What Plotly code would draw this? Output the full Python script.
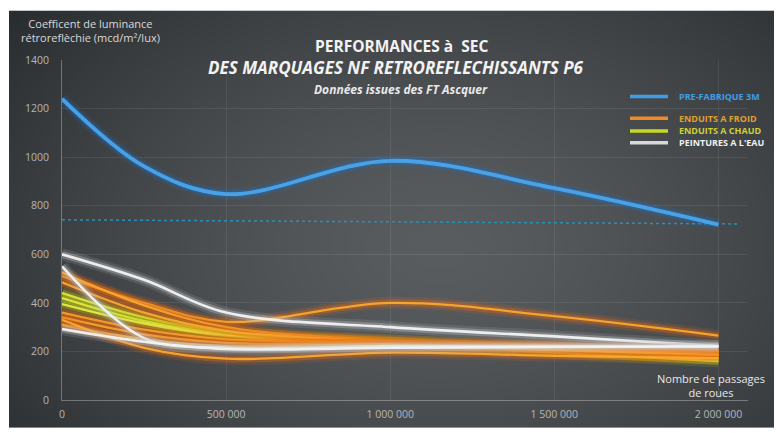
import base64, struct, zlib
import numpy as np
import plotly.graph_objects as go

# ---------------- data ----------------
x_pts = [0, 250000, 500000, 1000000, 1500000, 2000000]

prefab_3m = [1240, 962, 848, 985, 872, 722]
seuil_x = [0, 2060000]
seuil_y = [742, 725]

enduits_froid = [
    [510, 400, 322, 400, 345, 265],
    [525, 390, 300, 245, 225, 205],
    [485, 360, 285, 240, 222, 200],
    [360, 290, 250, 235, 215, 195],
    [340, 270, 235, 230, 210, 190],
    [310, 250, 222, 228, 205, 185],
    [330, 215, 170, 195, 182, 172],
]
enduits_chaud = [
    [440, 340, 280, 245, 215, 185],
    [420, 325, 272, 238, 205, 170],
    [395, 315, 265, 232, 195, 160],
]
peintures_eau = [
    [600, 495, 360, 300, 262, 222],
    [550, 255, 215, 222, 222, 222],
    [292, 240, 210, 215, 218, 220],
]

x_tickvals = [0, 500000, 1000000, 1500000, 2000000]
x_ticktext = ["0", "500 000", "1 000 000", "1 500 000", "2 000 000"]
y_tickvals = [0, 200, 400, 600, 800, 1000, 1200, 1400]

legend_labels = ["PRE-FABRIQUE 3M", "ENDUITS A FROID", "ENDUITS A CHAUD", "PEINTURES A L'EAU"]

# ---------------- geometry helpers ----------------
OFF = 8                      # page body margin
W, H = 782, 433              # reference picture size
FW, FH = W - OFF, H - OFF    # figure size
L, R, T, B = 62, 748, 60, 405  # plot area in reference pixels
PW, PH = R - L, B - T


def px(x):
    return (x - L) / PW


def py(y):
    return (B - y) / PH


# ---------------- background gradient (PNG) ----------------
gw, gh = 196, 108
jj, ii = np.mgrid[0:gh, 0:gw]
X = ii / (gw - 1) * (W - 9) + 9
Y = jj / (gh - 1) * (H - 10) + 10
d = np.sqrt(((X - 440) / 470.0) ** 2 + ((Y - 250) / 330.0) ** 2)
d = np.clip(d, 0, 1.25) / 1.25
t = d ** 1.4
light = np.array([0x5a, 0x5d, 0x60], float)
dark = np.array([0x26, 0x29, 0x2c], float)
img = (light[None, None, :] * (1 - t[..., None]) + dark[None, None, :] * t[..., None]).astype(np.uint8)
raw = b"".join(b"\x00" + img[r].tobytes() for r in range(gh))


def chunk(tag, data):
    return struct.pack(">I", len(data)) + tag + data + struct.pack(">I", zlib.crc32(tag + data) & 0xFFFFFFFF)


png = (b"\x89PNG\r\n\x1a\n" + chunk(b"IHDR", struct.pack(">IIBBBBB", gw, gh, 8, 2, 0, 0, 0))
       + chunk(b"IDAT", zlib.compress(raw, 9)) + chunk(b"IEND", b""))
bg_uri = "data:image/png;base64," + base64.b64encode(png).decode()

# ---------------- figure ----------------
fig = go.Figure()


def glow_line(xs, ys, core, glow, wcore=2.3):
    for w, op in [(12, 0.14), (7, 0.35)]:
        fig.add_trace(go.Scatter(x=xs, y=ys, mode="lines", line=dict(color=glow, width=w, shape="spline", smoothing=1.0),
                                 opacity=op, showlegend=False, hoverinfo="skip"))
    fig.add_trace(go.Scatter(x=xs, y=ys, mode="lines", line=dict(color=core, width=wcore, shape="spline", smoothing=1.0),
                             opacity=0.95, showlegend=False, hoverinfo="skip"))


# threshold dotted line
fig.add_trace(go.Scatter(x=seuil_x, y=seuil_y, mode="lines", line=dict(color="#2a8fb8", width=1.5, dash="dot"),
                         showlegend=False, hoverinfo="skip"))

for ys in enduits_chaud:
    glow_line(x_pts, ys, "#eee84a", "#b8d010")
for ys in enduits_froid:
    glow_line(x_pts, ys, "#f8a832", "#e86a10")
for ys in peintures_eau:
    glow_line(x_pts, ys, "#f4f4f4", "#c4c7ca", 2.6)

# blue
glow_line(x_pts, prefab_3m, "#4aa6ec", "#1d72c8", 3.8)

fig.add_layout_image(dict(source=bg_uri, xref="paper", yref="paper", x=px(9), y=py(10),
                          sizex=(W - 9) / PW, sizey=(H - 10) / PH, sizing="stretch", layer="below",
                          xanchor="left", yanchor="top"))

font = "Open Sans, DejaVu Sans, sans-serif"

fig.update_layout(
    width=FW, height=FH,
    margin=dict(l=L - OFF, r=FW - (R - OFF), t=T - OFF, b=FH - (B - OFF), pad=0),
    paper_bgcolor="white",
    plot_bgcolor="rgba(0,0,0,0)",
    showlegend=False,
    xaxis=dict(range=[0, 2090000], tickvals=x_tickvals, ticktext=x_ticktext, showgrid=True,
               gridcolor="rgba(255,255,255,0.08)", gridwidth=1, zeroline=False,
               showline=True, linecolor="rgba(255,255,255,0.30)", linewidth=1,
               tickfont=dict(family=font, size=10.5, color="#b4b6b8"), ticks="", ticklabelstandoff=4),
    yaxis=dict(range=[0, 1400], tickvals=y_tickvals, showgrid=True,
               gridcolor="rgba(255,255,255,0.08)", gridwidth=1, zeroline=False,
               showline=True, linecolor="rgba(255,255,255,0.30)", linewidth=1,
               tickfont=dict(family=font, size=10.5, color="#b4b6b8"), ticks="", ticklabelstandoff=10),
)

ann = []


def text(x, y, s, size, color, bold=False, italic=False, xanchor="center", align="center"):
    if bold:
        s = "<b>" + s + "</b>"
    if italic:
        s = "<i>" + s + "</i>"
    ann.append(dict(x=px(x), y=py(y), xref="paper", yref="paper", text=s, showarrow=False,
                    xanchor=xanchor, yanchor="middle", align=align, borderpad=0,
                    font=dict(family=font, size=size, color=color)))


text(401, 45.5, "PERFORMANCES à  SEC", 15.5, "#f2f2f2", bold=True)
text(396, 68, "DES MARQUAGES NF RETROREFLECHISSANTS P6", 17, "#f2f2f2", bold=True, italic=True)
text(401, 89.5, "Données issues des FT Ascquer", 12, "#e8e8e8", bold=True, italic=True)
text(90, 30, "Coefficent de luminance<br>rétroreflèchie (mcd/m²/lux)", 11, "#d8d8d8")
text(711, 390, "Nombre de passages<br>de roues", 11, "#e8e8e8")

# legend (manual)
leg_rows = [(97, "#3d9ee6", "#3d9ee6"), (119, "#f08a28", "#e0a030"), (132, "#c8d820", "#d0d030"), (144, "#d8d8d8", "#f0f0f0")]
shapes = []
for (yy, lc, tc), lab in zip(leg_rows, legend_labels):
    shapes.append(dict(type="line", xref="paper", yref="paper", x0=px(630), x1=px(668), y0=py(yy), y1=py(yy),
                       line=dict(color=lc, width=3.5)))
    text(678, yy, lab, 9, tc, bold=True, xanchor="left", align="left")

fig.update_layout(annotations=ann, shapes=shapes)

fig.write_html("out.html")
